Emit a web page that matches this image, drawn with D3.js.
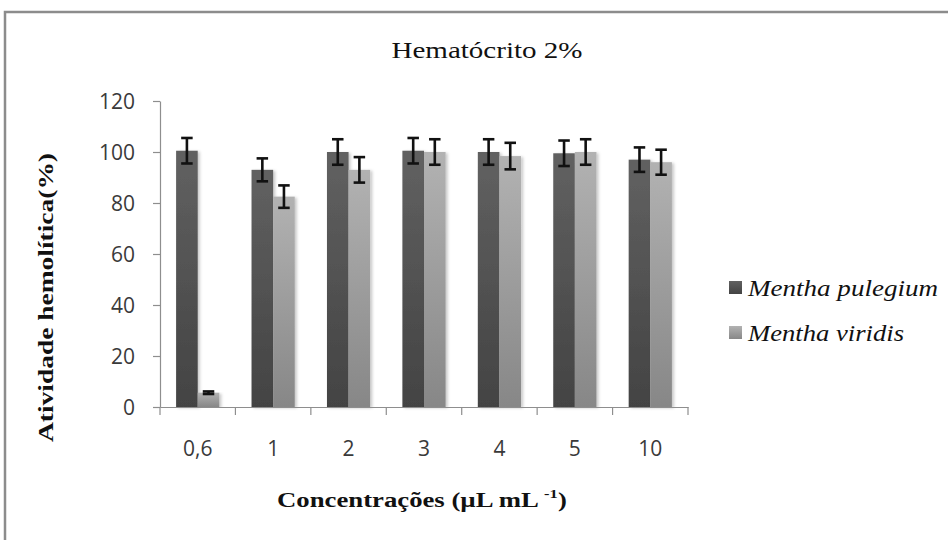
<!DOCTYPE html>
<html>
<head>
<meta charset="utf-8">
<script src="https://cdn.jsdelivr.net/npm/d3@7"></script>
<style>
  html, body { margin: 0; padding: 0; background: #fff; }
  svg { display: block; }
</style>
</head>
<body>
<svg id="chart" width="948" height="540"></svg>
<script>
// Hemolytic activity at each essential-oil concentration (mean ± error)
const categories = ["0,6", "1", "2", "3", "4", "5", "10"];
const seriesNames = ["Mentha pulegium", "Mentha viridis"];
const pulegium    = [100.5, 93.0, 100.0, 100.5, 100.0, 99.5, 97.0];
const pulegiumErr = [5.0, 4.5, 5.0, 5.0, 5.0, 5.0, 4.8];
const viridis     = [5.6, 82.5, 93.0, 100.0, 98.4, 100.0, 96.0];
const viridisErr  = [0.5, 4.4, 5.0, 5.0, 5.2, 5.0, 4.9];
const yTicks = [0, 20, 40, 60, 80, 100, 120];

const svg = d3.select("#chart");
const serif = "'Liberation Serif', 'Times New Roman', Tinos, serif";
const sans = "'Open Sans', sans-serif";

// outer chart frame
svg.append("rect")
  .attr("x", 5).attr("y", 12).attr("width", 1000).attr("height", 600)
  .attr("fill", "none").attr("stroke", "#8c8c8c").attr("stroke-width", 2.5);

const plot = { left: 160, right: 688, top: 101, bottom: 407 };

const x = d3.scaleBand().domain(categories)
  .range([plot.left, plot.right]).paddingInner(0.427).paddingOuter(0.2135);
const xs = d3.scaleBand().domain(seriesNames).range([0, x.bandwidth()]);
const y = d3.scaleLinear().domain([0, 120]).range([plot.bottom, plot.top]);

// gradients and a soft shadow for the bars
const defs = svg.append("defs");
const grads = [
  { id: "gDark",  top: "#616161", bottom: "#434343" },
  { id: "gLight", top: "#b2b2b2", bottom: "#878787" }
];
grads.forEach(g => {
  const lg = defs.append("linearGradient").attr("id", g.id)
    .attr("x1", 0).attr("y1", 0).attr("x2", 0).attr("y2", 1);
  lg.append("stop").attr("offset", "0%").attr("stop-color", g.top);
  lg.append("stop").attr("offset", "100%").attr("stop-color", g.bottom);
});
const f = defs.append("filter").attr("id", "shadow")
  .attr("x", "-20%").attr("y", "-5%").attr("width", "150%").attr("height", "110%");
f.append("feDropShadow").attr("dx", 2).attr("dy", 1).attr("stdDeviation", 1.5)
  .attr("flood-color", "#000").attr("flood-opacity", 0.22);

const fills = ["url(#gDark)", "url(#gLight)"];
const axisColor = "#8e8e8e";

// y axis
const yAxis = svg.append("g")
  .attr("transform", `translate(${plot.left},0)`)
  .call(d3.axisLeft(y).tickValues(yTicks).tickSize(7).tickPadding(18).tickSizeOuter(0));
yAxis.select(".domain").attr("stroke", axisColor).attr("stroke-width", 1.2);
yAxis.selectAll(".tick line").attr("stroke", axisColor).attr("stroke-width", 1.2);
yAxis.selectAll(".tick text")
  .attr("font-family", sans).attr("font-size", 21)
  .attr("fill", "#3a3a3a").attr("dy", "0.36em");

// bars
const rows = categories.map((c, i) => ({
  cat: c,
  vals: [
    { s: seriesNames[0], v: pulegium[i], e: pulegiumErr[i], k: 0 },
    { s: seriesNames[1], v: viridis[i],  e: viridisErr[i],  k: 1 }
  ]
}));

const groups = svg.append("g").selectAll("g").data(rows).join("g")
  .attr("transform", d => `translate(${x(d.cat)},0)`);

groups.selectAll("rect").data(d => d.vals).join("rect")
  .attr("x", d => xs(d.s))
  .attr("y", d => y(d.v))
  .attr("width", xs.bandwidth())
  .attr("height", d => y(0) - y(d.v))
  .attr("fill", d => fills[d.k])
  .attr("filter", "url(#shadow)");

// error bars
const capW = 11.5;
const cx = d => xs(d.s) + xs.bandwidth() / 2;
const eb = groups.selectAll("g.err").data(d => d.vals).join("g").attr("class", "err")
  .attr("stroke", "#111").attr("stroke-width", 2.6);
eb.append("line")
  .attr("x1", cx).attr("x2", cx)
  .attr("y1", d => y(d.v + d.e)).attr("y2", d => y(d.v - d.e));
eb.append("line")
  .attr("x1", d => cx(d) - capW / 2).attr("x2", d => cx(d) + capW / 2)
  .attr("y1", d => y(d.v + d.e)).attr("y2", d => y(d.v + d.e));
eb.append("line")
  .attr("x1", d => cx(d) - capW / 2).attr("x2", d => cx(d) + capW / 2)
  .attr("y1", d => y(d.v - d.e)).attr("y2", d => y(d.v - d.e));

// x axis: baseline, category labels, and ticks between categories
const xAxis = svg.append("g")
  .attr("transform", `translate(0,${plot.bottom})`)
  .call(d3.axisBottom(x).tickSize(0).tickPadding(49).tickSizeOuter(0));
xAxis.select(".domain").attr("stroke", axisColor).attr("stroke-width", 1.2);
xAxis.selectAll(".tick text")
  .attr("font-family", sans).attr("font-size", 21)
  .attr("fill", "#3a3a3a").attr("dy", "0");
const half = (x.step() - x.bandwidth()) / 2;
const bounds = categories.map(c => x(c) - half)
  .concat([x(categories[categories.length - 1]) + x.bandwidth() + half]);
svg.append("g").selectAll("line").data(bounds).join("line")
  .attr("x1", d => d).attr("x2", d => d)
  .attr("y1", plot.bottom).attr("y2", plot.bottom + 8)
  .attr("stroke", axisColor).attr("stroke-width", 1.2);

// title
svg.append("text")
  .attr("x", 487).attr("y", 58).attr("text-anchor", "middle")
  .attr("font-family", serif).attr("font-size", 23.5)
  .attr("fill", "#111")
  .attr("textLength", 191).attr("lengthAdjust", "spacingAndGlyphs")
  .text("Hematócrito 2%");

// stretch a text element horizontally to span a given width from a left edge
function fitWidth(sel, left, width) {
  const bb = sel.node().getBBox();
  const k = width / bb.width;
  sel.attr("transform", `translate(${left},0) scale(${k},1) translate(${-bb.x},0)`);
}

// x axis title with superscript
const xt = svg.append("text")
  .attr("x", 0).attr("y", 507)
  .attr("font-family", serif)
  .attr("font-size", 21).attr("font-weight", "bold").attr("fill", "#111");
xt.append("tspan").text("Concentrações (µL mL ");
xt.append("tspan").attr("font-size", 13).attr("dy", -9).text("-1");
xt.append("tspan").attr("dy", 9).text(")");
fitWidth(xt, 277, 290);

// y axis title (rotated)
svg.append("text")
  .attr("transform", "translate(53,297.5) rotate(-90)")
  .attr("text-anchor", "middle")
  .attr("font-family", serif)
  .attr("font-size", 21).attr("font-weight", "bold").attr("fill", "#111")
  .attr("textLength", 289).attr("lengthAdjust", "spacingAndGlyphs")
  .text("Atividade hemolítica(%)");

// legend
const legendW = [190, 156];
const lg = svg.append("g").selectAll("g").data(seriesNames).join("g")
  .attr("transform", (d, i) => `translate(729,${281 + i * 45})`);
lg.append("rect").attr("width", 13).attr("height", 13)
  .attr("fill", (d, i) => fills[i]);
lg.append("text")
  .attr("x", 19).attr("y", 15)
  .attr("font-family", serif)
  .attr("font-size", 23).attr("font-style", "italic").attr("fill", "#111")
  .attr("textLength", (d, i) => legendW[i]).attr("lengthAdjust", "spacingAndGlyphs")
  .text(d => d);
</script>
</body>
</html>
